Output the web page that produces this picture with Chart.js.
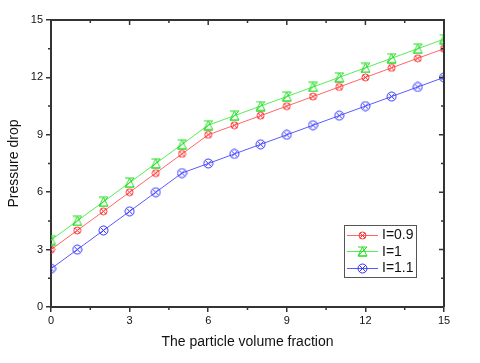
<!DOCTYPE html>
<html><head><meta charset="utf-8">
<script src="https://cdn.jsdelivr.net/npm/chart.js@4.4.0/dist/chart.umd.min.js"></script>
<style>html,body{margin:0;padding:0;background:#fff;}</style>
</head><body>
<canvas id="c" width="480" height="363" style="width:480px;height:363px;display:block"></canvas>
<script>
const xValues = [0,1,2,3,4,5,6,7,8,9,10,11,12,13,14,15];
const seriesLabels = ['I=0.9','I=1','I=1.1'];
const valuesI09 = [3,4,5,6,7,8,9,9.5,10,10.5,11,11.5,12,12.5,13,13.5];
const valuesI1  = [3.5,4.5,5.5,6.5,7.5,8.5,9.5,10,10.5,11,11.5,12,12.5,13,13.5,14];
const valuesI11 = [2,3,4,5,6,7,7.5,8,8.5,9,9.5,10,10.5,11,11.5,12];
const xTitle = 'The particle volume fraction';
const yTitle = 'Pressure drop';

const FONT = "'Liberation Sans', Arial, sans-serif";
const AXIS = '#333';

function makeMarker(kind, color, size) {
  const c = document.createElement('canvas');
  c.width = size; c.height = size;
  const g = c.getContext('2d');
  g.strokeStyle = color; g.lineWidth = 1;
  const m = size / 2, r = size / 2 - 1;
  if (kind === 'circle') {
    g.beginPath(); g.arc(m, m, r, 0, Math.PI * 2); g.stroke();
    const d = r * 0.75;
    g.beginPath(); g.moveTo(m - d, m - d); g.lineTo(m + d, m + d);
    g.moveTo(m + d, m - d); g.lineTo(m - d, m + d); g.stroke();
  } else {
    g.beginPath(); g.moveTo(m, 1); g.lineTo(size - 1, size - 1); g.lineTo(1, size - 1); g.closePath(); g.stroke();
    g.beginPath(); g.moveTo(1, 1); g.lineTo(size - 1, 1); g.lineTo(1, size - 1); g.lineTo(size - 1, size - 1); g.stroke();
  }
  return c;
}

const colors = ['#ff6666', '#55ee55', '#5a5aff'];
const markers = [
  makeMarker('circle', '#ff3333', 9),
  makeMarker('tri', '#22dd22', 11),
  makeMarker('circle', '#3333ff', 11)
];
const allSeries = [valuesI09, valuesI1, valuesI11];

const datasets = allSeries.map((vals, i) => ({
  label: seriesLabels[i],
  data: xValues.map((x, k) => ({ x: x, y: vals[k] })),
  borderColor: colors[i],
  borderWidth: 1,
  pointStyle: markers[i],
  pointRadius: 5,
  pointHoverRadius: 5,
  fill: false,
  tension: 0
}));

const framePlugin = {
  id: 'frame',
  afterDraw(chart) {
    const ctx = chart.ctx, a = chart.chartArea;
    const xs = chart.scales.x, ys = chart.scales.y;
    ctx.save();
    ctx.strokeStyle = AXIS;
    ctx.lineWidth = 2;
    ctx.beginPath();
    ctx.moveTo(a.left, a.top); ctx.lineTo(a.right, a.top); ctx.lineTo(a.right, a.bottom);
    ctx.stroke();
    ctx.lineWidth = 1.5;
    ctx.beginPath();
    for (let v = 0; v <= 15; v += 1.5) {
      const px = xs.getPixelForValue(v), py = ys.getPixelForValue(v);
      const major = (v % 3 === 0);
      const L = major ? 5 : 3;
      if (!major) {
        ctx.moveTo(px, a.bottom); ctx.lineTo(px, a.bottom + L);
        ctx.moveTo(a.left, py); ctx.lineTo(a.left - L, py);
      }
      ctx.moveTo(px, a.top); ctx.lineTo(px, a.top + L);
      ctx.moveTo(a.right, py); ctx.lineTo(a.right - L, py);
    }
    ctx.stroke();

    // legend
    const bx = 344, by = 225, bw = 72, bh = 52;
    ctx.fillStyle = '#fff';
    ctx.fillRect(bx, by, bw, bh);
    ctx.lineWidth = 1;
    ctx.strokeStyle = '#555';
    ctx.strokeRect(bx + 0.5, by + 0.5, bw, bh);
    ctx.font = '14px ' + FONT;
    ctx.textBaseline = 'middle';
    ctx.textAlign = 'left';
    chart.data.datasets.forEach((ds, i) => {
      const y = by + 9.5 + i * 16.5;
      ctx.strokeStyle = ds.borderColor;
      ctx.lineWidth = 1;
      ctx.beginPath(); ctx.moveTo(bx + 3, Math.round(y) + 0.5); ctx.lineTo(bx + 34, Math.round(y) + 0.5); ctx.stroke();
      const mk = ds.pointStyle;
      ctx.drawImage(mk, Math.round(bx + 18.5 - mk.width / 2), Math.round(y - mk.height / 2 + 0.5));
      ctx.fillStyle = '#111';
      ctx.fillText(ds.label, bx + 38, y + 1);
    });
    ctx.restore();
  }
};

new Chart(document.getElementById('c'), {
  type: 'line',
  data: { datasets },
  options: {
    responsive: false,
    animation: false,
    layout: { padding: { top: 20, right: 36, left: 0, bottom: 0 } },
    plugins: { legend: { display: false }, tooltip: { enabled: false } },
    scales: {
      x: {
        type: 'linear', min: 0, max: 15,
        afterFit(s) { s.height = 56; },
        ticks: { stepSize: 3, color: '#111', padding: 2, font: { family: FONT, size: 11 } },
        grid: { drawOnChartArea: false, drawTicks: true, tickLength: 5, color: AXIS, lineWidth: 1.5 },
        border: { display: true, color: AXIS, width: 2 },
        title: { display: true, text: xTitle, color: '#111', font: { family: FONT, size: 14 }, padding: { top: 0, bottom: 12.6 } }
      },
      y: {
        min: 0, max: 15,
        afterFit(s) { s.width = 51; },
        ticks: { stepSize: 3, color: '#111', padding: 3, font: { family: FONT, size: 11 } },
        grid: { drawOnChartArea: false, drawTicks: true, tickLength: 5, color: AXIS, lineWidth: 1.5 },
        border: { display: true, color: AXIS, width: 2 },
        title: { display: true, text: yTitle, color: '#111', font: { family: FONT, size: 14 }, padding: { top: 6, bottom: 0 } }
      }
    }
  },
  plugins: [framePlugin]
});
</script>
</body></html>
